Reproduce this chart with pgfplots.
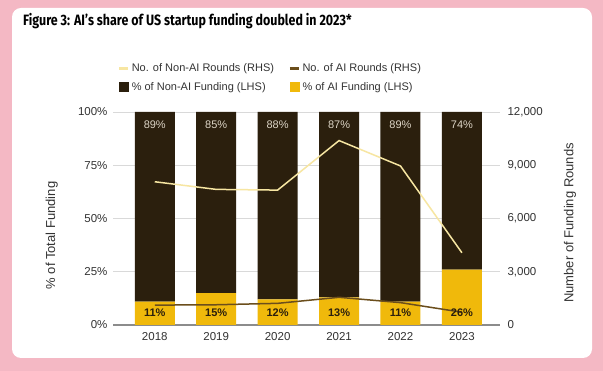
\documentclass[border=0pt]{standalone}
\usepackage{pgfplots}
\pgfplotsset{compat=1.18}
\usepackage{fontspec}
\setmainfont{Liberation Sans}
\newfontfamily\titlefont{Fira Sans}
\definecolor{bgpink}{HTML}{F4B8C4}
\definecolor{darkbar}{HTML}{2B1F0D}
\definecolor{yellowbar}{HTML}{F0B90B}
\definecolor{lightline}{HTML}{F7E6A2}
\definecolor{darkline}{HTML}{6B4E1C}
\definecolor{gridgray}{HTML}{D9D9D9}
\definecolor{axgray}{HTML}{8C8C8C}
\definecolor{txt}{HTML}{333333}
\definecolor{lighttxt}{HTML}{DDD5C6}
\pgfplotsset{
  linelegend/.style={legend image code/.code={\draw[##1] (0pt,0pt) -- (9pt,0pt);}},
  boxlegend/.style={legend image code/.code={\fill[##1] (0pt,-4.5pt) rectangle (9pt,4.5pt);}},
}
\begin{document}
\begin{tikzpicture}[x=1pt,y=1pt]
\fill[bgpink] (0,0) rectangle (603,371);
\fill[white, rounded corners=9pt] (12,13) rectangle (592,363);
\node[anchor=west, inner sep=0, font=\titlefont\bfseries\fontsize{15}{17}\selectfont] at (23,350)
  {\scalebox{0.83}[1]{Figure 3: AI’s share of US startup funding doubled in 2023*}};
% Axis 1: bars (LHS)
\begin{axis}[
  at={(113pt,46pt)}, anchor=south west, scale only axis,
  width=387pt, height=213pt,
  xmin=-0.68, xmax=5.62, ymin=0, ymax=100,
  ybar stacked, bar width=40pt,
  xtick={0,1,2,3,4,5}, xticklabels={2018,2019,2020,2021,2022,2023},
  ytick={0,25,50,75,100},
  yticklabel={\pgfmathprintnumber{\tick}\%},
  ymajorgrids, grid style={gridgray, line width=0.8pt},
  major tick length=0pt,
  axis x line*=bottom, axis y line*=left,
  x axis line style={axgray, line width=1.2pt, -},
  y axis line style={draw=none},
  tick label style={font=\fontsize{11.5}{13}\selectfont, text=txt},
  xticklabel style={yshift=-4pt},
  yticklabel style={xshift=-2pt},
  /pgf/number format/assume math mode=true,
  ylabel={\% of Total Funding},
  ylabel style={at={(axis description cs:-0.158,0.42)}, anchor=center, rotate=0, font=\fontsize{13}{15}\selectfont, text=txt},
  legend columns=2,
  legend cell align=left,
  legend style={at={(axis description cs:0.406,1.160)}, anchor=center, draw=none, fill=none,
    font=\fontsize{11}{13}\selectfont, text=txt, inner sep=0pt, row sep=5pt,
    /tikz/every even column/.append style={column sep=12pt},
    /tikz/every odd column/.append style={column sep=0pt}},
]
\addlegendimage{lightline, line width=3.5pt, linelegend}
\addlegendentry{No. of Non-AI Rounds (RHS)}
\addlegendimage{darkline, line width=3.5pt, linelegend}
\addlegendentry{No. of AI Rounds (RHS)}
\addlegendimage{darkbar, boxlegend}
\addlegendentry{\% of Non-AI Funding (LHS)}
\addlegendimage{yellowbar, boxlegend}
\addlegendentry{\% of AI Funding (LHS)}
\addplot[fill=yellowbar, draw=none, forget plot] coordinates {(0,11) (1,15) (2,12) (3,13) (4,11) (5,26)};
\addplot[fill=darkbar, draw=none, forget plot] coordinates {(0,89) (1,85) (2,88) (3,87) (4,89) (5,74)};
\end{axis}
% Axis 2: lines (RHS)
\begin{axis}[
  at={(113pt,46pt)}, anchor=south west, scale only axis,
  width=387pt, height=213pt,
  xmin=-0.68, xmax=5.62, ymin=0, ymax=12000,
  axis x line=none,
  axis y line*=right,
  y axis line style={draw=none},
  ytick={0,3000,6000,9000,12000},
  major tick length=0pt,
  tick label style={font=\fontsize{11.5}{13}\selectfont, text=txt},
  yticklabel style={xshift=4pt},
  /pgf/number format/assume math mode=true,
  /pgf/number format/1000 sep={,},
  scaled y ticks=false,
  ylabel={Number of Funding Rounds},
  ylabel style={at={(axis description cs:1.181,0.479)}, anchor=center, rotate=0, font=\fontsize{13}{15}\selectfont, text=txt},
]
\addplot[lightline, line width=1.5pt] coordinates {(0,8070) (1,7640) (2,7600) (3,10390) (4,8960) (5,4070)};
\addplot[darkline, line width=1.5pt] coordinates {(0,1120) (1,1140) (2,1220) (3,1560) (4,1260) (5,720)};
\end{axis}
% Axis 3: labels
\begin{axis}[
  at={(113pt,46pt)}, anchor=south west, scale only axis,
  width=387pt, height=213pt,
  xmin=-0.68, xmax=5.62, ymin=0, ymax=100,
  hide axis, clip=false,
  /pgf/number format/assume math mode=true,
]
\addplot[draw=none, mark=none, point meta=explicit,
  nodes near coords={\pgfmathprintnumber{\pgfplotspointmeta}\%},
  nodes near coords style={anchor=center, font=\fontsize{11}{13}\selectfont, text=lighttxt}]
  coordinates {(0,93.9) [89] (1,93.9) [85] (2,93.9) [88] (3,93.9) [87] (4,93.9) [89] (5,93.9) [74]};
\addplot[draw=none, mark=none, point meta=explicit,
  nodes near coords={\pgfmathprintnumber{\pgfplotspointmeta}\%},
  nodes near coords style={anchor=center, font=\bfseries\fontsize{11}{13}\selectfont, text=darkbar}]
  coordinates {(0,5.6) [11] (1,5.6) [15] (2,5.6) [12] (3,5.6) [13] (4,5.6) [11] (5,5.6) [26]};
\end{axis}
\pgfresetboundingbox
\useasboundingbox (0,0) rectangle (603,371);
\end{tikzpicture}
\end{document}
